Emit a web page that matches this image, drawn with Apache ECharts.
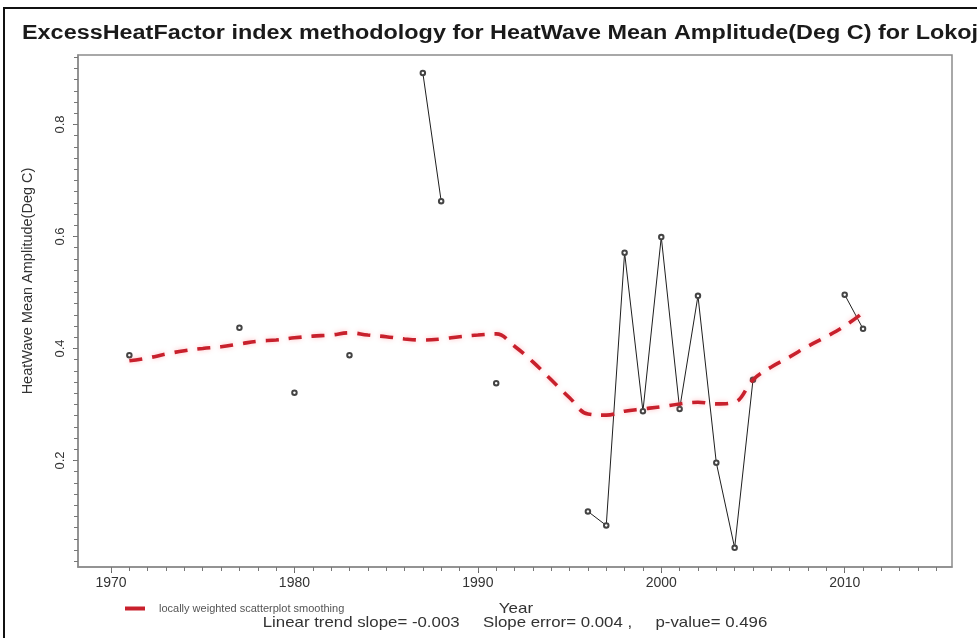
<!DOCTYPE html>
<html><head><meta charset="utf-8">
<script src="https://cdn.jsdelivr.net/npm/echarts@6/dist/echarts.min.js"></script>
<style>html,body{margin:0;padding:0;background:#fff}#c{width:977px;height:638px}</style>
</head><body><div id="c"></div>
<script>
const titleText = 'ExcessHeatFactor index methodology for HeatWave Mean Amplitude(Deg C) for Lokoja';
const yAxisTitle = 'HeatWave Mean Amplitude(Deg C)';
const xAxisTitle = 'Year';
const trendText = 'Linear trend slope= -0.003     Slope error= 0.004 ,     p-value= 0.496';
const legendLabel = 'locally weighted scatterplot smoothing';

const years = [1971, 1977, 1980, 1983, 1987, 1988, 1991, 1996, 1997, 1998, 1999, 2000, 2001, 2002, 2003, 2004, 2005, 2010, 2011];
const amplitude = [0.388, 0.437, 0.321, 0.388, 0.892, 0.663, 0.338, 0.109, 0.084, 0.571, 0.288, 0.599, 0.292, 0.494, 0.196, 0.044, 0.344, 0.496, 0.435];

const loessYears = [1971, 1972, 1973, 1974, 1975, 1976, 1977, 1978, 1979, 1980, 1981, 1982, 1983, 1984, 1985, 1986, 1987, 1988, 1989, 1990, 1991, 1992, 1993, 1994, 1995, 1996, 1997, 1998, 1999, 2000, 2001, 2002, 2003, 2004, 2005, 2006, 2007, 2008, 2009, 2010, 2011];
const loessValues = [0.378, 0.383, 0.390, 0.396, 0.400, 0.403, 0.408, 0.413, 0.415, 0.419, 0.422, 0.424, 0.428, 0.424, 0.421, 0.417, 0.415, 0.417, 0.421, 0.424, 0.426, 0.404, 0.376, 0.344, 0.312, 0.283, 0.281, 0.288, 0.292, 0.296, 0.301, 0.304, 0.301, 0.304, 0.344, 0.367, 0.385, 0.404, 0.421, 0.440, 0.464];

const xTickLabels = [1970, 1980, 1990, 2000, 2010];
const yTickLabels = [0.2, 0.4, 0.6, 0.8];

const xMinorTicks = [];
for (let y = 1970; y <= 2015; y++) xMinorTicks.push(y);
const yMinorTicks = [];
for (let k = 1; k <= 46; k++) yMinorTicks.push(Math.round(k * 0.02 * 1000) / 1000);

const obsData = [];
years.forEach((yr, i) => {
  if (i > 0 && yr - years[i - 1] > 1) obsData.push([yr - 0.5, null]);
  obsData.push([yr, amplitude[i]]);
});
const loessData = loessYears.map((y, i) => [y, loessValues[i]]);

const FONT = '"Liberation Sans", Arial, sans-serif';
const X_MIN = 1968.2, X_MAX = 2015.85, Y_MIN = 0.0098, Y_MAX = 0.924;
const axisGray = '#8c8c8c';

const chart = echarts.init(document.getElementById('c'), null, {renderer: 'canvas'});
chart.setOption({
  animation: false,
  backgroundColor: '#ffffff',
  textStyle: {fontFamily: FONT},
  grid: {left: 78, right: 25, top: 55, bottom: 71, show: true, borderColor: axisGray, borderWidth: 1.5, backgroundColor: '#fff', outerBoundsMode: 'none'},
  legend: {
    data: [legendLabel], left: 120, top: 598, icon: 'rect', itemWidth: 20, itemHeight: 4,
    selectedMode: false, textStyle: {fontSize: 11, color: '#555', fontFamily: FONT, padding: [0, 0, 0, 9]}
  },
  xAxis: [{
    type: 'value', min: X_MIN, max: X_MAX, position: 'bottom',
    axisLine: {show: true, lineStyle: {color: axisGray, width: 1.5}},
    axisTick: {show: true, customValues: xTickLabels, length: 6, lineStyle: {color: '#666'}},
    axisLabel: {show: true, customValues: xTickLabels, formatter: v => String(Math.round(v)), fontSize: 14, color: '#333', margin: 9, fontFamily: FONT},
    splitLine: {show: false}
  }, {
    type: 'value', min: X_MIN, max: X_MAX, position: 'bottom', offset: 0,
    axisLine: {show: false},
    axisTick: {show: true, customValues: xMinorTicks, length: 4, lineStyle: {color: '#777'}},
    axisLabel: {show: false}, splitLine: {show: false}
  }],
  yAxis: [{
    type: 'value', min: Y_MIN, max: Y_MAX, position: 'left',
    name: yAxisTitle, nameLocation: 'middle', nameGap: 43,
    nameTextStyle: {fontSize: 14.5, color: '#333', fontFamily: FONT, padding: [0, 0, 0, 60]},
    axisLine: {show: true, lineStyle: {color: axisGray, width: 1.5}},
    axisTick: {show: true, customValues: yTickLabels, length: 5, lineStyle: {color: '#666'}},
    axisLabel: {show: true, customValues: yTickLabels, formatter: v => String(v), rotate: 90, fontSize: 13, color: '#333', margin: 11, fontFamily: FONT},
    splitLine: {show: false}
  }, {
    type: 'value', min: Y_MIN, max: Y_MAX, position: 'left', offset: 0,
    axisLine: {show: false},
    axisTick: {show: true, customValues: yMinorTicks, length: 4, lineStyle: {color: '#777'}},
    axisLabel: {show: false}, splitLine: {show: false}
  }],
  series: [{
    type: 'line', name: 'observed', data: obsData, xAxisIndex: 0, yAxisIndex: 0,
    symbol: 'emptyCircle', symbolSize: 4.5, showSymbol: true, showAllSymbol: true, connectNulls: false,
    lineStyle: {color: '#1f1f1f', width: 1},
    itemStyle: {color: '#444', borderWidth: 0.9},
    z: 2, silent: true
  }, {
    type: 'line', name: legendLabel, data: loessData, xAxisIndex: 0, yAxisIndex: 0,
    symbol: 'none', smooth: 0.4,
    lineStyle: {color: '#c8202c', width: 3.6, type: [13, 10], cap: 'butt', shadowColor: 'rgba(255,110,120,0.45)', shadowBlur: 5},
    itemStyle: {color: '#c8202c'},
    z: 3, silent: true
  }],
  graphic: [
    {type: 'rect', shape: {x: 4, y: 8, width: 1000, height: 640}, style: {fill: 'none', stroke: '#111', lineWidth: 2}, silent: true, z: 100},
    {type: 'text', x: 22, y: 33, scaleX: 1.17, style: {text: titleText, fontSize: 20, fontWeight: 'bold', fontFamily: FONT, fill: '#1a1a1a', verticalAlign: 'middle'}},
    {type: 'text', x: 516, y: 609, scaleX: 1.17, style: {text: xAxisTitle, fontSize: 14.5, fontFamily: FONT, fill: '#333', align: 'center', verticalAlign: 'middle'}},
    {type: 'text', x: 515, y: 623, scaleX: 1.16, style: {text: trendText, fontSize: 14.5, fontFamily: FONT, fill: '#333', align: 'center', verticalAlign: 'middle'}}
  ]
});
</script>
</body></html>
